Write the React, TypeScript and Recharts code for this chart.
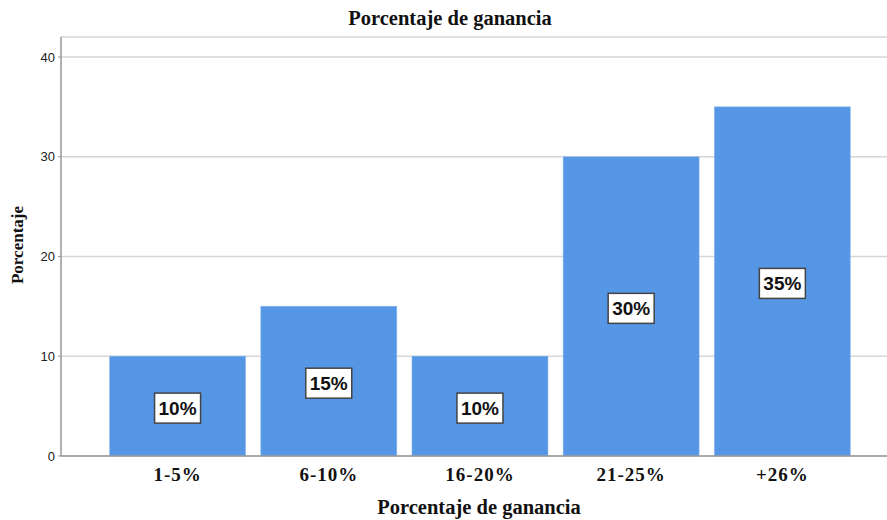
import { BarChart, Bar, XAxis, YAxis, CartesianGrid, LabelList } from 'recharts';

const categories = ['1-5%', '6-10%', '16-20%', '21-25%', '+26%'];
const percentages = [10, 15, 10, 30, 35];
const yTicks = [0, 10, 20, 30, 40];

const chartData = categories.map((name, i) => ({ name, value: percentages[i] }));

const serif = '"Liberation Serif", "Times New Roman", serif';
const sans = '"Liberation Sans", Arial, sans-serif';

// White boxed percentage label centred in each bar
function BoxLabel(props: any) {
  const { x, y, width, height, value } = props;
  const cx = Number(x) + Number(width) / 2;
  const cy = Number(y) + Number(height) / 2 + 2;
  const w = 46;
  const h = 30;
  return (
    <g>
      <rect x={cx - w / 2} y={cy - h / 2} width={w} height={h} fill="#fff" stroke="#444" strokeWidth={1.5} />
      <text
        x={cx}
        y={cy}
        textAnchor="middle"
        dominantBaseline="central"
        fontFamily={sans}
        fontWeight="bold"
        fontSize={19}
        fill="#111"
      >
        {`${value}%`}
      </text>
    </g>
  );
}

export default function App() {
  return (
    <div style={{ position: 'absolute', left: 0, top: 0, width: 887, height: 520, background: '#fff' }}>
      <div
        style={{
          position: 'absolute', top: 7, left: 450, transform: 'translateX(-50%)',
          fontFamily: serif, fontWeight: 'bold', fontSize: 20.5, color: '#111', whiteSpace: 'nowrap',
        }}
      >
        Porcentaje de ganancia
      </div>
      <div
        style={{
          position: 'absolute', top: 496, left: 479, transform: 'translateX(-50%)',
          fontFamily: serif, fontWeight: 'bold', fontSize: 20.5, color: '#111', whiteSpace: 'nowrap',
        }}
      >
        Porcentaje de ganancia
      </div>
      <div
        style={{
          position: 'absolute', top: 245, left: 18, transform: 'translate(-50%, -50%) rotate(-90deg)',
          fontFamily: serif, fontWeight: 'bold', fontSize: 17, color: '#111', whiteSpace: 'nowrap',
        }}
      >
        Porcentaje
      </div>
      <BarChart
        width={887}
        height={520}
        data={chartData}
        margin={{ top: 37, right: 0, bottom: 34, left: 0 }}
        barCategoryGap="5%"
      >
        <CartesianGrid vertical={false} stroke="#d6d6d6" strokeWidth={1.5} />
        <XAxis
          dataKey="name"
          height={30}
          axisLine={{ stroke: '#999', strokeWidth: 1.5 }}
          tickLine={false}
          tickMargin={6}
          padding={{ left: 41, right: 29 }}
          tick={{ fontFamily: serif, fontWeight: 'bold', fontSize: 19, fill: '#111', letterSpacing: 1 }}
          interval={0}
        />
        <YAxis
          width={61}
          domain={[0, 42]}
          ticks={yTicks}
          axisLine={{ stroke: '#999', strokeWidth: 1.5 }}
          tickLine={{ stroke: '#999' }}
          tickSize={3}
          tickMargin={3}
          tick={{ fontFamily: sans, fontSize: 13, fill: '#222' }}
        />
        <Bar dataKey="value" fill="#5596E5" stroke="#8ab6ee" strokeWidth={0.5} isAnimationActive={false}>
          <LabelList dataKey="value" content={BoxLabel} />
        </Bar>
      </BarChart>
    </div>
  );
}
